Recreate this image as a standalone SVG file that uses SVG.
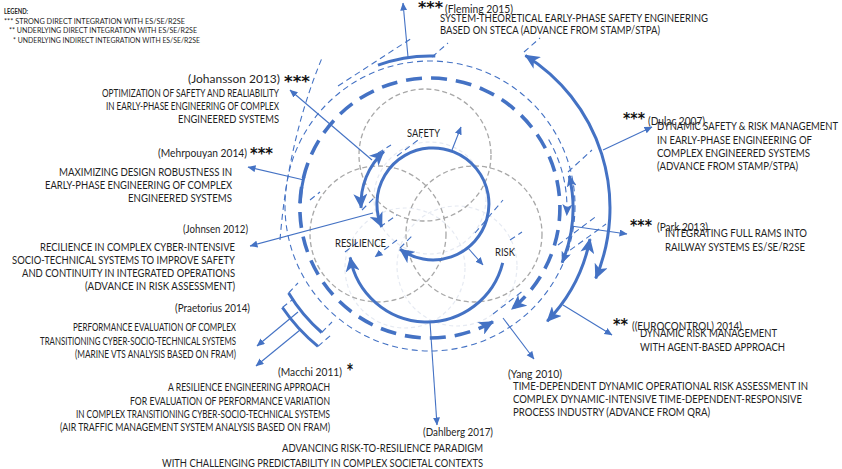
<svg xmlns="http://www.w3.org/2000/svg" width="842" height="469" viewBox="0 0 842 469">
<style>
.t{font-family:Lato,"Liberation Sans",sans-serif;font-size:11px;fill:#1f1f1f}
.e{text-anchor:end}
.lg{font-size:7px}
.ast{font-family:"DejaVu Sans",sans-serif;font-weight:bold;font-size:16px;fill:#111}
.c{font-size:11px}
.thin{fill:none;stroke:#4472C4;stroke-width:1.1}
.arw{fill:none;stroke:#4472C4;stroke-width:1.1;marker-end:url(#ah)}
.thick{fill:none;stroke:#4472C4;stroke-width:3}
.dd{fill:none;stroke:#4472C4;stroke-width:3.6;stroke-dasharray:16 9}
.td{fill:none;stroke:#4472C4;stroke-width:1.1;stroke-dasharray:6 4}
.grey{fill:none;stroke:#a8a8a8;stroke-width:1.3;stroke-dasharray:5 3}
.faint{fill:none;stroke:#e6eaf2;stroke-width:1.2;stroke-dasharray:4 3}
</style>
<defs>
<marker id="ah" markerUnits="userSpaceOnUse" markerWidth="8" markerHeight="8" viewBox="0 0 8 8" refX="7.5" refY="3.5" orient="auto"><path d="M0,0 L8,3.5 L0,7 z" fill="#4472C4"/></marker>
<marker id="big" markerUnits="userSpaceOnUse" markerWidth="16" markerHeight="14" viewBox="0 0 16 14" refX="14" refY="7" orient="auto-start-reverse"><path d="M0,0 L15,7 L0,14 L4,7 z" fill="#4472C4"/></marker>
<marker id="mid" markerUnits="userSpaceOnUse" markerWidth="12" markerHeight="10" viewBox="0 0 12 10" refX="11" refY="5" orient="auto-start-reverse"><path d="M0,0 L12,5 L0,10 L3,5 z" fill="#4472C4"/></marker>
</defs>

<g id="venn">
<circle class="faint" cx="405" cy="268" r="60"/>
<circle class="faint" cx="457" cy="266" r="60"/>
<circle class="faint" cx="430" cy="198" r="56"/>
<circle class="grey" cx="425" cy="155" r="66"/>
<circle class="grey" cx="378" cy="234" r="68"/>
<circle class="grey" cx="474" cy="234" r="68"/>
</g>

<g id="rings">
<circle class="td" cx="430" cy="206" r="145"/>
<path class="dd" d="M493,321.7 A130,130 0 1 1 511.8,309" marker-start="url(#big)" marker-end="url(#big)"/>
<path class="thick" stroke-width="3.5" d="M300.1,203.5 A130,130 0 0 1 303.9,176.6"/>
<path class="thick" d="M378,65.2 A152,152 0 0 1 435.3,56.1"/>
<path class="thick" d="M288.6,293 A165,165 0 0 0 321.7,332.5"/>
<path class="thick" d="M282.4,307.5 A178,178 0 0 0 318,346.3"/>
<path class="thick" d="M525.4,55.4 A180,180 0 0 1 595.7,278.3" marker-start="url(#big)" marker-end="url(#big)"/>
<path class="thick" stroke-width="2.6" d="M569.3,175.8 A143,143 0 0 1 562.1,262.7" marker-start="url(#mid)" marker-end="url(#mid)"/>
<path class="thick" stroke-width="2.6" d="M590,239.1 A163,163 0 0 1 547.2,321.2" marker-start="url(#big)" marker-end="url(#big)"/>
<path class="td" d="M548.6,139.5 A137,137 0 0 1 566.8,215.2" marker-end="url(#mid)"/>
<path class="thick" d="M400.1,249.3 A56,56 0 1 0 381.8,226.8" marker-start="url(#big)" marker-end="url(#big)"/>
<path class="thick" stroke-width="2.6" d="M383.9,151.3 A72,72 0 0 0 361.1,207.8" marker-start="url(#big)" marker-end="url(#big)"/>
<path class="thick" d="M502.7,262.9 A78,78 0 0 1 350.2,257.5" marker-end="url(#big)"/>
</g>

<g id="ticks">
<path class="td" d="M338,86 L412,38"/>
<path class="td" d="M280,240 Q288,140 322,58"/>
<path class="td" d="M432,57 L448,43"/>
<path class="td" d="M524,52 L540,38"/>
<path class="td" d="M568,172 L592,150"/>
<path class="td" d="M558,245 L598,215"/>
<path class="td" d="M562,256 L606,224"/>
<path class="td" d="M493,314 L524,290"/>
<path class="td" d="M378,153 L391,145"/>
<path class="td" d="M397,156 L422,137"/>
<path class="td" d="M362,210 L375,197"/>
<path class="td" d="M380,227 L397,215"/>
<path class="td" d="M400,248 L412,236"/>
<path class="td" d="M345,252 L358,242"/>
<path class="td" d="M475,233 L503,200"/>
<path class="td" d="M510,240 L522,232"/>
<path class="td" d="M310,200 L320,192"/>
<path class="td" d="M397,240 L375,257" marker-end="url(#ah)"/>
<path class="td" d="M288.6,293 L298,283"/>
<path class="td" d="M321.7,332.5 L332,322"/>
<path class="td" d="M282.4,307.5 L292,300"/>
<path class="td" d="M318,346.3 L331,335"/>
</g>

<g id="connectors">
<line class="arw" x1="408" y1="57" x2="403" y2="3"/>
<line class="arw" x1="372" y1="160" x2="290" y2="90"/>
<line class="arw" x1="304" y1="180" x2="248" y2="167"/>
<line class="arw" x1="373" y1="213" x2="250" y2="246"/>
<line class="arw" x1="298" y1="312" x2="257" y2="346"/>
<line class="arw" x1="300" y1="330" x2="256" y2="366"/>
<line class="arw" x1="430" y1="322" x2="437" y2="425"/>
<line class="arw" x1="503" y1="318" x2="534" y2="359"/>
<line class="arw" x1="563" y1="305" x2="612" y2="335"/>
<line class="arw" x1="571" y1="226" x2="627" y2="234"/>
<line class="arw" x1="603" y1="150" x2="652" y2="127"/>
<line class="arw" x1="452" y1="150" x2="461" y2="127"/>
<line class="arw" x1="468" y1="248" x2="483" y2="265"/>
</g>

<g id="legend">
<text class="t lg" x="4" y="13.5" font-weight="bold" textLength="24" lengthAdjust="spacingAndGlyphs">LEGEND:</text>
<text class="t lg" x="4" y="23.5" textLength="181" lengthAdjust="spacingAndGlyphs">*** STRONG DIRECT INTEGRATION WITH  ES/SE/R2SE</text>
<text class="t lg" x="9" y="33" textLength="188" lengthAdjust="spacingAndGlyphs">** UNDERLYING DIRECT INTEGRATION WITH ES/SE/R2SE</text>
<text class="t lg" x="13" y="42.5" textLength="187" lengthAdjust="spacingAndGlyphs">* UNDERLYING INDIRECT INTEGRATION WITH ES/SE/R2SE</text>
</g>

<g id="centre-labels">
<text class="t c" x="407" y="137" textLength="33" lengthAdjust="spacingAndGlyphs">SAFETY</text>
<text class="t c" x="335" y="247" textLength="51" lengthAdjust="spacingAndGlyphs">RESILIENCE</text>
<text class="t c" x="495" y="256" textLength="20" lengthAdjust="spacingAndGlyphs">RISK</text>
</g>

<g id="johansson">
<text class="t e" x="280" y="83" textLength="92" lengthAdjust="spacingAndGlyphs">(Johansson 2013)</text>
<text class="ast" x="284" y="87.4" textLength="26" lengthAdjust="spacingAndGlyphs">***</text>
<text class="t e" x="279" y="96.5" textLength="177" lengthAdjust="spacingAndGlyphs">OPTIMIZATION OF SAFETY AND REALIABILITY</text>
<text class="t e" x="279" y="109.5" textLength="173" lengthAdjust="spacingAndGlyphs">IN  EARLY-PHASE ENGINEERING OF COMPLEX</text>
<text class="t e" x="279" y="122.5" textLength="101" lengthAdjust="spacingAndGlyphs">ENGINEERED SYSTEMS</text>
</g>

<g id="fleming">
<text class="ast" x="418" y="13.4" textLength="25" lengthAdjust="spacingAndGlyphs">***</text>
<text class="t" x="445" y="12.5" textLength="68" lengthAdjust="spacingAndGlyphs">(Fleming 2015)</text>
<text class="t" x="440" y="21.5" textLength="268" lengthAdjust="spacingAndGlyphs">SYSTEM-THEORETICAL EARLY-PHASE SAFETY ENGINEERING</text>
<text class="t" x="440" y="34" textLength="220" lengthAdjust="spacingAndGlyphs">BASED ON STECA (ADVANCE FROM STAMP/STPA)</text>
</g>

<g id="dulac">
<text class="ast" x="623" y="124" textLength="22" lengthAdjust="spacingAndGlyphs">***</text>
<text class="t" x="648" y="124.5" textLength="57" lengthAdjust="spacingAndGlyphs">(Dulac 2007)</text>
<text class="t" x="657" y="129.5" textLength="181" lengthAdjust="spacingAndGlyphs">DYNAMIC SAFETY &amp; RISK MANAGEMENT</text>
<text class="t" x="657" y="144" textLength="155" lengthAdjust="spacingAndGlyphs">IN EARLY-PHASE ENGINEERING OF</text>
<text class="t" x="657" y="157" textLength="153" lengthAdjust="spacingAndGlyphs">COMPLEX  ENGINEERED SYSTEMS</text>
<text class="t" x="657" y="170" textLength="141" lengthAdjust="spacingAndGlyphs">(ADVANCE FROM STAMP/STPA)</text>
</g>

<g id="park">
<text class="ast" x="630" y="231" textLength="22" lengthAdjust="spacingAndGlyphs">***</text>
<text class="t" x="657" y="231" textLength="51" lengthAdjust="spacingAndGlyphs">(Park 2013)</text>
<text class="t" x="665" y="237" textLength="142" lengthAdjust="spacingAndGlyphs">INTEGRATING FULL RAMS INTO</text>
<text class="t" x="665" y="250.5" textLength="140" lengthAdjust="spacingAndGlyphs">RAILWAY SYSTEMS ES/SE/R2SE</text>
</g>

<g id="eurocontrol">
<text class="ast" x="613" y="330" textLength="15" lengthAdjust="spacingAndGlyphs">**</text>
<text class="t" x="632" y="330" textLength="110" lengthAdjust="spacingAndGlyphs">((EUROCONTROL) 2014)</text>
<text class="t" x="640" y="337" textLength="137" lengthAdjust="spacingAndGlyphs">DYNAMIC RISK MANAGEMENT</text>
<text class="t" x="640" y="351" textLength="145" lengthAdjust="spacingAndGlyphs">WITH AGENT-BASED APPROACH</text>
</g>

<g id="yang">
<text class="t" x="508" y="378" textLength="54" lengthAdjust="spacingAndGlyphs">(Yang 2010)</text>
<text class="t" x="513" y="389.5" textLength="295" lengthAdjust="spacingAndGlyphs">TIME-DEPENDENT DYNAMIC OPERATIONAL RISK ASSESSMENT IN</text>
<text class="t" x="513" y="402.5" textLength="289" lengthAdjust="spacingAndGlyphs">COMPLEX  DYNAMIC-INTENSIVE TIME-DEPENDENT-RESPONSIVE</text>
<text class="t" x="513" y="415.5" textLength="197" lengthAdjust="spacingAndGlyphs">PROCESS INDUSTRY (ADVANCE FROM QRA)</text>
</g>

<g id="dahlberg">
<text class="t e" x="493" y="436" textLength="70" lengthAdjust="spacingAndGlyphs">(Dahlberg 2017)</text>
<text class="t e" x="483" y="452" textLength="201" lengthAdjust="spacingAndGlyphs">ADVANCING RISK-TO-RESILIENCE PARADIGM</text>
<text class="t e" x="483" y="467" textLength="321" lengthAdjust="spacingAndGlyphs">WITH CHALLENGING PREDICTABILITY IN COMPLEX  SOCIETAL CONTEXTS</text>
</g>

<g id="macchi">
<text class="t" x="278" y="375.5" textLength="64" lengthAdjust="spacingAndGlyphs">(Macchi 2011)</text>
<text class="ast" x="347" y="375" textLength="6" lengthAdjust="spacingAndGlyphs">*</text>
<text class="t e" x="330" y="391" textLength="162" lengthAdjust="spacingAndGlyphs">A RESILIENCE ENGINEERING APPROACH</text>
<text class="t e" x="330" y="404.5" textLength="200" lengthAdjust="spacingAndGlyphs">FOR EVALUATION OF PERFORMANCE VARIATION</text>
<text class="t e" x="330" y="418" textLength="254" lengthAdjust="spacingAndGlyphs">IN COMPLEX TRANSITIONING CYBER-SOCIO-TECHNICAL SYSTEMS</text>
<text class="t e" x="330" y="431" textLength="270" lengthAdjust="spacingAndGlyphs">(AIR TRAFFIC MANAGEMENT SYSTEM ANALYSIS BASED ON FRAM)</text>
</g>

<g id="praetorius">
<text class="t" x="175" y="312" textLength="75" lengthAdjust="spacingAndGlyphs">(Praetorius 2014)</text>
<text class="t e" x="236" y="330.5" textLength="163" lengthAdjust="spacingAndGlyphs">PERFORMANCE EVALUATION OF COMPLEX</text>
<text class="t e" x="236" y="344.5" textLength="196" lengthAdjust="spacingAndGlyphs">TRANSITIONING CYBER-SOCIO-TECHNICAL SYSTEMS</text>
<text class="t e" x="236" y="357.5" textLength="161" lengthAdjust="spacingAndGlyphs">(MARINE VTS ANALYSIS BASED ON FRAM)</text>
</g>

<g id="johnsen">
<text class="t e" x="248" y="233" textLength="65" lengthAdjust="spacingAndGlyphs">(Johnsen 2012)</text>
<text class="t e" x="235" y="251" textLength="195" lengthAdjust="spacingAndGlyphs">RECILIENCE IN  COMPLEX CYBER-INTENSIVE</text>
<text class="t e" x="235" y="264" textLength="223" lengthAdjust="spacingAndGlyphs">SOCIO-TECHNICAL SYSTEMS TO IMPROVE SAFETY</text>
<text class="t e" x="235" y="277" textLength="213" lengthAdjust="spacingAndGlyphs">AND CONTINUITY IN INTEGRATED OPERATIONS</text>
<text class="t e" x="235" y="290" textLength="150" lengthAdjust="spacingAndGlyphs">(ADVANCE IN RISK ASSESSMENT)</text>
</g>

<g id="mehrpouyan">
<text class="t e" x="247" y="157" textLength="89" lengthAdjust="spacingAndGlyphs">(Mehrpouyan 2014)</text>
<text class="ast" x="250" y="158.5" textLength="23" lengthAdjust="spacingAndGlyphs">***</text>
<text class="t e" x="232" y="176" textLength="173" lengthAdjust="spacingAndGlyphs">MAXIMIZING DESIGN ROBUSTNESS IN</text>
<text class="t e" x="232" y="189" textLength="187" lengthAdjust="spacingAndGlyphs">EARLY-PHASE ENGINEERING OF COMPLEX</text>
<text class="t e" x="232" y="201.5" textLength="104" lengthAdjust="spacingAndGlyphs">ENGINEERED SYSTEMS</text>
</g>
</svg>
